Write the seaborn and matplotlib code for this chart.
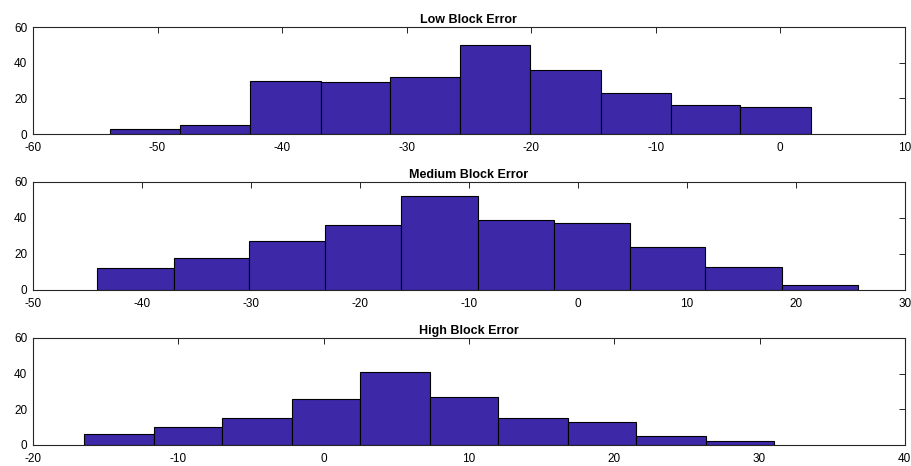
import numpy as np
import pandas as pd
import matplotlib
matplotlib.use("Agg")
import matplotlib.pyplot as plt
import seaborn as sns

# bin edges and counts
low_edges = [-53.8, -48.2, -42.6, -36.9, -31.3, -25.7, -20.1, -14.4, -8.8, -3.2, 2.45]
low_counts = [3, 5, 30, 29, 32, 50, 36, 23, 16, 15]

med_edges = [-44.1, -37.1, -30.2, -23.2, -16.2, -9.2, -2.2, 4.8, 11.7, 18.7, 25.7]
med_counts = [12, 18, 27, 36, 52, 39, 37, 24, 13, 3]

high_edges = [-16.5, -11.7, -7.0, -2.2, 2.5, 7.3, 12.0, 16.8, 21.5, 26.3, 31.0]
high_counts = [6, 10, 15, 26, 41, 27, 15, 13, 5, 2]

titles = ["Low Block Error", "Medium Block Error", "High Block Error"]
xlims = [(-60, 10), (-50, 30), (-20, 40)]
yticks = [0, 20, 40, 60]

sns.set_style("white")
plt.rcParams['font.family'] = ['Liberation Sans', 'DejaVu Sans']
plt.rcParams['axes.unicode_minus'] = False
plt.rcParams['text.color'] = 'black'
plt.rcParams['xtick.color'] = 'black'
plt.rcParams['ytick.color'] = 'black'

fig = plt.figure(figsize=(9.11, 4.66), dpi=100)
positions = [
    [0.0362, 0.7124, 0.957, 0.2296],
    [0.0362, 0.3777, 0.957, 0.2318],
    [0.0362, 0.0451, 0.957, 0.2296],
]

panels = [(low_edges, low_counts), (med_edges, med_counts), (high_edges, high_counts)]

for pos, (edges, counts), title, xl in zip(positions, panels, titles, xlims):
    ax = fig.add_axes(pos)
    centers = [(edges[i] + edges[i + 1]) / 2 for i in range(len(counts))]
    df = pd.DataFrame({"x": centers, "w": counts})
    sns.histplot(data=df, x="x", weights="w", bins=edges, ax=ax,
                 color="#3d28a8", edgecolor="black", linewidth=0.8, alpha=1.0)
    ax.set_xlim(*xl)
    ax.set_ylim(0, 60)
    ax.set_yticks(yticks)
    ax.set_xlabel("")
    ax.set_ylabel("")
    ax.set_title(title, fontsize=9, fontweight="bold", pad=3, color="black")
    ax.tick_params(direction="in", top=True, right=True, labelsize=8.5,
                   length=4, width=0.6, colors="black")
    ax.tick_params(axis="x", pad=6)
    ax.tick_params(axis="y", pad=4)
    for s in ax.spines.values():
        s.set_visible(True)
        s.set_color("#262626")
        s.set_linewidth(0.8)

fig.savefig("out.png", dpi=100)
